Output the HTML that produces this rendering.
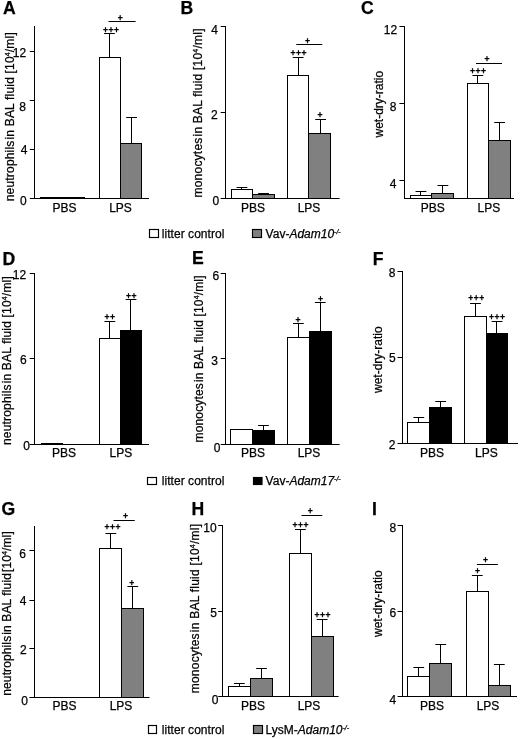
<!DOCTYPE html>
<html><head><meta charset="utf-8"><title>Figure</title>
<style>
html,body{margin:0;padding:0;background:#fff;}
svg{display:block;font-family:"Liberation Sans", Arial, sans-serif;}
text{stroke:#000;stroke-width:0.25px;}
</style></head><body>
<svg width="520" height="739" viewBox="0 0 520 739" fill="#000">
<rect x="0" y="0" width="520" height="739" fill="#fff"/>
<g id="panel-A">
<text x="3.00" y="14.40" font-size="17.6" text-anchor="start" font-weight="bold" >A</text>
<line x1="34.5" y1="26.00" x2="34.5" y2="199.00" stroke="#000" stroke-width="1"/>
<line x1="34.00" y1="198.5" x2="149.00" y2="198.5" stroke="#000" stroke-width="1"/>
<line x1="29.80" y1="51.5" x2="34.40" y2="51.5" stroke="#000" stroke-width="1"/>
<text x="26.15" y="57.00" font-size="12" text-anchor="end" font-weight="normal" >12</text>
<line x1="29.80" y1="100.5" x2="34.40" y2="100.5" stroke="#000" stroke-width="1"/>
<text x="26.00" y="110.60" font-size="12" text-anchor="end" font-weight="normal" >8</text>
<line x1="29.80" y1="149.5" x2="34.40" y2="149.5" stroke="#000" stroke-width="1"/>
<text x="27.40" y="153.75" font-size="12" text-anchor="end" font-weight="normal" >4</text>
<line x1="29.80" y1="198.5" x2="34.40" y2="198.5" stroke="#000" stroke-width="1"/>
<text x="26.65" y="204.75" font-size="12" text-anchor="end" font-weight="normal" >0</text>
<text transform="translate(14.40,201.25) rotate(-90)" font-size="12" text-anchor="start" textLength="169" lengthAdjust="spacing">neutrophils<tspan dx="1">in</tspan> BAL fluid [10<tspan font-size="7" dy="-4">4</tspan><tspan dy="4">/ml]</tspan></text>
<rect x="40.5" y="197.5" width="22.0" height="1.0" fill="#fff" stroke="#000" stroke-width="1"/>
<rect x="62.5" y="197.5" width="22.0" height="1.0" fill="#808080" stroke="#000" stroke-width="1"/>
<line x1="109.5" y1="33.60" x2="109.5" y2="57.50" stroke="#000" stroke-width="1"/>
<line x1="104.10" y1="33.5" x2="114.90" y2="33.5" stroke="#000" stroke-width="1"/>
<rect x="99.5" y="57.5" width="21.0" height="141.0" fill="#fff" stroke="#000" stroke-width="1"/>
<line x1="131.5" y1="117.50" x2="131.5" y2="143.30" stroke="#000" stroke-width="1"/>
<line x1="126.20" y1="117.5" x2="137.00" y2="117.5" stroke="#000" stroke-width="1"/>
<rect x="120.5" y="143.5" width="21.0" height="55.0" fill="#808080" stroke="#000" stroke-width="1"/>
<text x="64.60" y="211.75" font-size="12" text-anchor="middle" font-weight="normal" >PBS</text>
<text x="120.50" y="211.75" font-size="12" text-anchor="middle" font-weight="normal" >LPS</text>
<line x1="108.50" y1="21.5" x2="135.60" y2="21.5" stroke="#000" stroke-width="1"/>
<text x="120.25" y="20.70" font-size="8.5" text-anchor="middle" font-weight="bold" >+</text>
<text x="111.25" y="32.70" font-size="8.5" text-anchor="middle" font-weight="bold" letter-spacing="0.55">+++</text>
</g>
<g id="panel-B">
<text x="180.50" y="14.00" font-size="17.6" text-anchor="start" font-weight="bold" >B</text>
<line x1="225.5" y1="26.00" x2="225.5" y2="199.00" stroke="#000" stroke-width="1"/>
<line x1="225.00" y1="198.5" x2="339.60" y2="198.5" stroke="#000" stroke-width="1"/>
<line x1="220.70" y1="26.5" x2="225.30" y2="26.5" stroke="#000" stroke-width="1"/>
<text x="217.90" y="33.75" font-size="12" text-anchor="end" font-weight="normal" >4</text>
<line x1="220.70" y1="112.5" x2="225.30" y2="112.5" stroke="#000" stroke-width="1"/>
<text x="217.65" y="119.00" font-size="12" text-anchor="end" font-weight="normal" >2</text>
<line x1="220.70" y1="198.5" x2="225.30" y2="198.5" stroke="#000" stroke-width="1"/>
<text x="219.15" y="205.00" font-size="12" text-anchor="end" font-weight="normal" >0</text>
<text transform="translate(202.00,197.50) rotate(-90)" font-size="12" text-anchor="start" textLength="169" lengthAdjust="spacing">monocytes<tspan dx="1">in</tspan> BAL fluid [10<tspan font-size="7" dy="-4">4</tspan><tspan dy="4">/ml]</tspan></text>
<line x1="241.5" y1="187.00" x2="241.5" y2="189.60" stroke="#000" stroke-width="1"/>
<line x1="236.55" y1="187.5" x2="247.35" y2="187.5" stroke="#000" stroke-width="1"/>
<rect x="231.5" y="189.5" width="21.0" height="9.0" fill="#fff" stroke="#000" stroke-width="1"/>
<line x1="263.5" y1="193.50" x2="263.5" y2="194.50" stroke="#000" stroke-width="1"/>
<line x1="258.15" y1="193.5" x2="268.95" y2="193.5" stroke="#000" stroke-width="1"/>
<rect x="252.5" y="194.5" width="22.0" height="4.0" fill="#808080" stroke="#000" stroke-width="1"/>
<line x1="298.5" y1="57.00" x2="298.5" y2="75.30" stroke="#000" stroke-width="1"/>
<line x1="292.75" y1="57.5" x2="303.55" y2="57.5" stroke="#000" stroke-width="1"/>
<rect x="287.5" y="75.5" width="21.0" height="123.0" fill="#fff" stroke="#000" stroke-width="1"/>
<line x1="320.5" y1="119.00" x2="320.5" y2="133.20" stroke="#000" stroke-width="1"/>
<line x1="315.20" y1="119.5" x2="326.00" y2="119.5" stroke="#000" stroke-width="1"/>
<rect x="308.5" y="133.5" width="22.0" height="65.0" fill="#808080" stroke="#000" stroke-width="1"/>
<text x="253.00" y="211.75" font-size="12" text-anchor="middle" font-weight="normal" >PBS</text>
<text x="309.00" y="211.75" font-size="12" text-anchor="middle" font-weight="normal" >LPS</text>
<line x1="296.30" y1="44.5" x2="322.30" y2="44.5" stroke="#000" stroke-width="1"/>
<text x="307.40" y="43.90" font-size="8.5" text-anchor="middle" font-weight="bold" >+</text>
<text x="298.75" y="56.10" font-size="8.5" text-anchor="middle" font-weight="bold" letter-spacing="0.55">+++</text>
<text x="320.25" y="118.10" font-size="8.5" text-anchor="middle" font-weight="bold" letter-spacing="0.55">+</text>
</g>
<g id="panel-C">
<text x="361.00" y="14.30" font-size="17.6" text-anchor="start" font-weight="bold" >C</text>
<line x1="404.5" y1="26.00" x2="404.5" y2="199.00" stroke="#000" stroke-width="1"/>
<line x1="404.00" y1="198.5" x2="514.00" y2="198.5" stroke="#000" stroke-width="1"/>
<line x1="399.40" y1="26.5" x2="404.00" y2="26.5" stroke="#000" stroke-width="1"/>
<text x="397.15" y="33.75" font-size="12" text-anchor="end" font-weight="normal" >12</text>
<line x1="399.40" y1="103.5" x2="404.00" y2="103.5" stroke="#000" stroke-width="1"/>
<text x="396.40" y="111.25" font-size="12" text-anchor="end" font-weight="normal" >8</text>
<line x1="399.40" y1="180.5" x2="404.00" y2="180.5" stroke="#000" stroke-width="1"/>
<text x="396.40" y="187.50" font-size="12" text-anchor="end" font-weight="normal" >4</text>
<text transform="translate(383.10,137.50) rotate(-90)" font-size="12" text-anchor="start" >wet-dry-ratio</text>
<line x1="420.5" y1="191.60" x2="420.5" y2="195.70" stroke="#000" stroke-width="1"/>
<line x1="415.55" y1="191.5" x2="426.35" y2="191.5" stroke="#000" stroke-width="1"/>
<rect x="410.5" y="195.5" width="21.0" height="3.0" fill="#fff" stroke="#000" stroke-width="1"/>
<line x1="442.5" y1="185.80" x2="442.5" y2="193.50" stroke="#000" stroke-width="1"/>
<line x1="437.50" y1="185.5" x2="448.30" y2="185.5" stroke="#000" stroke-width="1"/>
<rect x="431.5" y="193.5" width="22.0" height="5.0" fill="#808080" stroke="#000" stroke-width="1"/>
<line x1="477.5" y1="75.00" x2="477.5" y2="83.00" stroke="#000" stroke-width="1"/>
<line x1="472.45" y1="75.5" x2="483.25" y2="75.5" stroke="#000" stroke-width="1"/>
<rect x="467.5" y="83.5" width="21.0" height="115.0" fill="#fff" stroke="#000" stroke-width="1"/>
<line x1="499.5" y1="122.50" x2="499.5" y2="140.80" stroke="#000" stroke-width="1"/>
<line x1="494.25" y1="122.5" x2="505.05" y2="122.5" stroke="#000" stroke-width="1"/>
<rect x="488.5" y="140.5" width="22.0" height="58.0" fill="#808080" stroke="#000" stroke-width="1"/>
<text x="432.80" y="212.00" font-size="12" text-anchor="middle" font-weight="normal" >PBS</text>
<text x="488.80" y="212.00" font-size="12" text-anchor="middle" font-weight="normal" >LPS</text>
<line x1="476.00" y1="63.5" x2="502.00" y2="63.5" stroke="#000" stroke-width="1"/>
<text x="487.00" y="61.90" font-size="8.5" text-anchor="middle" font-weight="bold" >+</text>
<text x="478.25" y="73.80" font-size="8.5" text-anchor="middle" font-weight="bold" letter-spacing="0.55">+++</text>
</g>
<g class="legend">
<rect x="149.5" y="229.5" width="9.0" height="8.0" fill="#fff" stroke="#000" stroke-width="1.15"/>
<rect x="252.5" y="229.5" width="9.0" height="8.0" fill="#808080" stroke="#000" stroke-width="1.15"/>
<text x="161.80" y="238.00" font-size="12" text-anchor="start" font-weight="normal" textLength="62.6" lengthAdjust="spacing">litter control</text>
<text x="265.60" y="238.00" font-size="12" text-anchor="start" font-weight="normal" >Vav-<tspan font-style="italic">Adam10</tspan><tspan font-size="7" dy="-4" font-style="italic">-/-</tspan></text>
</g>
<g id="panel-D">
<text x="2.60" y="265.00" font-size="17.6" text-anchor="start" font-weight="bold" >D</text>
<line x1="34.5" y1="273.00" x2="34.5" y2="445.00" stroke="#000" stroke-width="1"/>
<line x1="34.00" y1="444.5" x2="149.00" y2="444.5" stroke="#000" stroke-width="1"/>
<line x1="29.70" y1="273.5" x2="34.30" y2="273.5" stroke="#000" stroke-width="1"/>
<text x="26.15" y="278.75" font-size="12" text-anchor="end" font-weight="normal" >12</text>
<line x1="29.70" y1="358.5" x2="34.30" y2="358.5" stroke="#000" stroke-width="1"/>
<text x="26.65" y="363.75" font-size="12" text-anchor="end" font-weight="normal" >6</text>
<line x1="29.70" y1="444.5" x2="34.30" y2="444.5" stroke="#000" stroke-width="1"/>
<text x="29.90" y="450.30" font-size="12" text-anchor="end" font-weight="normal" >0</text>
<text transform="translate(10.60,445.00) rotate(-90)" font-size="12" text-anchor="start" textLength="168.75" lengthAdjust="spacing">neutrophils<tspan dx="1">in</tspan> BAL fluid [10<tspan font-size="7" dy="-4">4</tspan><tspan dy="4">/ml]</tspan></text>
<rect x="41.5" y="443.5" width="21.0" height="1.0" fill="#fff" stroke="#000" stroke-width="1"/>
<line x1="62.0" y1="444.5" x2="85.0" y2="444.5" stroke="#000" stroke-width="1"/>
<line x1="109.5" y1="321.80" x2="109.5" y2="338.20" stroke="#000" stroke-width="1"/>
<line x1="104.45" y1="321.5" x2="115.25" y2="321.5" stroke="#000" stroke-width="1"/>
<rect x="99.5" y="338.5" width="21.0" height="106.0" fill="#fff" stroke="#000" stroke-width="1"/>
<line x1="130.5" y1="299.40" x2="130.5" y2="330.80" stroke="#000" stroke-width="1"/>
<line x1="125.65" y1="299.5" x2="136.45" y2="299.5" stroke="#000" stroke-width="1"/>
<rect x="120.5" y="330.5" width="21.0" height="114.0" fill="#000" stroke="#000" stroke-width="1"/>
<text x="64.10" y="457.25" font-size="12" text-anchor="middle" font-weight="normal" >PBS</text>
<text x="120.80" y="457.25" font-size="12" text-anchor="middle" font-weight="normal" >LPS</text>
<text x="109.95" y="319.60" font-size="8.5" text-anchor="middle" font-weight="bold" letter-spacing="0.55">++</text>
<text x="131.55" y="298.80" font-size="8.5" text-anchor="middle" font-weight="bold" letter-spacing="0.55">++</text>
</g>
<g id="panel-E">
<text x="192.00" y="263.75" font-size="17.6" text-anchor="start" font-weight="bold" >E</text>
<line x1="225.5" y1="273.00" x2="225.5" y2="445.00" stroke="#000" stroke-width="1"/>
<line x1="225.00" y1="444.5" x2="339.60" y2="444.5" stroke="#000" stroke-width="1"/>
<line x1="220.70" y1="273.5" x2="225.30" y2="273.5" stroke="#000" stroke-width="1"/>
<text x="219.15" y="280.00" font-size="12" text-anchor="end" font-weight="normal" >6</text>
<line x1="220.70" y1="358.5" x2="225.30" y2="358.5" stroke="#000" stroke-width="1"/>
<text x="217.90" y="365.40" font-size="12" text-anchor="end" font-weight="normal" >3</text>
<line x1="220.70" y1="444.5" x2="225.30" y2="444.5" stroke="#000" stroke-width="1"/>
<text x="220.40" y="452.00" font-size="12" text-anchor="end" font-weight="normal" >0</text>
<text transform="translate(203.10,442.50) rotate(-90)" font-size="12" text-anchor="start" textLength="167" lengthAdjust="spacing">monocytes<tspan dx="1">in</tspan> BAL fluid [10<tspan font-size="7" dy="-4">4</tspan><tspan dy="4">/ml]</tspan></text>
<line x1="241.5" y1="429.00" x2="241.5" y2="429.80" stroke="#000" stroke-width="1"/>
<line x1="236.05" y1="429.5" x2="246.85" y2="429.5" stroke="#000" stroke-width="1"/>
<rect x="230.5" y="429.5" width="22.0" height="15.0" fill="#fff" stroke="#000" stroke-width="1"/>
<line x1="263.5" y1="425.40" x2="263.5" y2="430.80" stroke="#000" stroke-width="1"/>
<line x1="258.05" y1="425.5" x2="268.85" y2="425.5" stroke="#000" stroke-width="1"/>
<rect x="252.5" y="430.5" width="22.0" height="14.0" fill="#000" stroke="#000" stroke-width="1"/>
<line x1="298.5" y1="323.20" x2="298.5" y2="337.00" stroke="#000" stroke-width="1"/>
<line x1="293.00" y1="323.5" x2="303.80" y2="323.5" stroke="#000" stroke-width="1"/>
<rect x="287.5" y="337.5" width="22.0" height="107.0" fill="#fff" stroke="#000" stroke-width="1"/>
<line x1="320.5" y1="302.80" x2="320.5" y2="331.50" stroke="#000" stroke-width="1"/>
<line x1="314.85" y1="302.5" x2="325.65" y2="302.5" stroke="#000" stroke-width="1"/>
<rect x="309.5" y="331.5" width="22.0" height="113.0" fill="#000" stroke="#000" stroke-width="1"/>
<text x="253.00" y="457.25" font-size="12" text-anchor="middle" font-weight="normal" >PBS</text>
<text x="309.00" y="457.25" font-size="12" text-anchor="middle" font-weight="normal" >LPS</text>
<text x="298.25" y="322.60" font-size="8.5" text-anchor="middle" font-weight="bold" letter-spacing="0.55">+</text>
<text x="320.75" y="302.40" font-size="8.5" text-anchor="middle" font-weight="bold" letter-spacing="0.55">+</text>
</g>
<g id="panel-F">
<text x="372.70" y="264.50" font-size="17.6" text-anchor="start" font-weight="bold" >F</text>
<line x1="402.5" y1="271.00" x2="402.5" y2="444.00" stroke="#000" stroke-width="1"/>
<line x1="402.00" y1="443.5" x2="518.00" y2="443.5" stroke="#000" stroke-width="1"/>
<line x1="397.50" y1="271.5" x2="402.10" y2="271.5" stroke="#000" stroke-width="1"/>
<text x="395.40" y="277.00" font-size="12" text-anchor="end" font-weight="normal" >8</text>
<line x1="397.50" y1="357.5" x2="402.10" y2="357.5" stroke="#000" stroke-width="1"/>
<text x="395.80" y="362.25" font-size="12" text-anchor="end" font-weight="normal" >5</text>
<line x1="397.50" y1="443.5" x2="402.10" y2="443.5" stroke="#000" stroke-width="1"/>
<text x="395.40" y="448.75" font-size="12" text-anchor="end" font-weight="normal" >2</text>
<text transform="translate(382.25,393.00) rotate(-90)" font-size="12" text-anchor="start" >wet-dry-ratio</text>
<line x1="418.5" y1="417.00" x2="418.5" y2="422.50" stroke="#000" stroke-width="1"/>
<line x1="413.40" y1="417.5" x2="424.20" y2="417.5" stroke="#000" stroke-width="1"/>
<rect x="407.5" y="422.5" width="22.0" height="21.0" fill="#fff" stroke="#000" stroke-width="1"/>
<line x1="440.5" y1="401.00" x2="440.5" y2="407.60" stroke="#000" stroke-width="1"/>
<line x1="435.25" y1="401.5" x2="446.05" y2="401.5" stroke="#000" stroke-width="1"/>
<rect x="429.5" y="407.5" width="22.0" height="36.0" fill="#000" stroke="#000" stroke-width="1"/>
<line x1="475.5" y1="303.00" x2="475.5" y2="316.70" stroke="#000" stroke-width="1"/>
<line x1="470.05" y1="303.5" x2="480.85" y2="303.5" stroke="#000" stroke-width="1"/>
<rect x="464.5" y="316.5" width="22.0" height="127.0" fill="#fff" stroke="#000" stroke-width="1"/>
<line x1="496.5" y1="321.80" x2="496.5" y2="333.30" stroke="#000" stroke-width="1"/>
<line x1="491.65" y1="321.5" x2="502.45" y2="321.5" stroke="#000" stroke-width="1"/>
<rect x="486.5" y="333.5" width="21.0" height="110.0" fill="#000" stroke="#000" stroke-width="1"/>
<text x="431.90" y="456.75" font-size="12" text-anchor="middle" font-weight="normal" >PBS</text>
<text x="486.40" y="456.75" font-size="12" text-anchor="middle" font-weight="normal" >LPS</text>
<text x="476.50" y="301.35" font-size="8.5" text-anchor="middle" font-weight="bold" letter-spacing="0.55">+++</text>
<text x="497.25" y="320.10" font-size="8.5" text-anchor="middle" font-weight="bold" letter-spacing="0.55">+++</text>
</g>
<g class="legend">
<rect x="147.5" y="477.5" width="9.0" height="7.0" fill="#fff" stroke="#000" stroke-width="1.15"/>
<rect x="253.5" y="477.5" width="8.5" height="7.0" fill="#000" stroke="#000" stroke-width="1.15"/>
<text x="161.80" y="484.75" font-size="12" text-anchor="start" font-weight="normal" textLength="62.6" lengthAdjust="spacing">litter control</text>
<text x="265.60" y="484.75" font-size="12" text-anchor="start" font-weight="normal" >Vav-<tspan font-style="italic">Adam17</tspan><tspan font-size="7" dy="-4" font-style="italic">-/-</tspan></text>
</g>
<g id="panel-G">
<text x="1.50" y="514.80" font-size="17.6" text-anchor="start" font-weight="bold" >G</text>
<line x1="34.5" y1="526.00" x2="34.5" y2="698.00" stroke="#000" stroke-width="1"/>
<line x1="34.00" y1="697.5" x2="149.50" y2="697.5" stroke="#000" stroke-width="1"/>
<line x1="29.40" y1="550.5" x2="34.00" y2="550.5" stroke="#000" stroke-width="1"/>
<text x="25.90" y="557.50" font-size="12" text-anchor="end" font-weight="normal" >6</text>
<line x1="29.40" y1="600.5" x2="34.00" y2="600.5" stroke="#000" stroke-width="1"/>
<text x="26.40" y="605.00" font-size="12" text-anchor="end" font-weight="normal" >4</text>
<line x1="29.40" y1="648.5" x2="34.00" y2="648.5" stroke="#000" stroke-width="1"/>
<text x="26.65" y="654.25" font-size="12" text-anchor="end" font-weight="normal" >2</text>
<line x1="29.40" y1="697.5" x2="34.00" y2="697.5" stroke="#000" stroke-width="1"/>
<text x="27.90" y="704.50" font-size="12" text-anchor="end" font-weight="normal" >0</text>
<text transform="translate(10.70,695.75) rotate(-90)" font-size="12" text-anchor="start" textLength="164.5" lengthAdjust="spacing">neutrophils<tspan dx="1">in</tspan> BAL fluid<tspan dx="1">[10</tspan><tspan font-size="7" dy="-4">4</tspan><tspan dy="4">/ml]</tspan></text>
<line x1="38.0" y1="697.5" x2="63.0" y2="697.5" stroke="#000" stroke-width="1"/>
<line x1="62.0" y1="697.5" x2="86.0" y2="697.5" stroke="#000" stroke-width="1"/>
<line x1="110.5" y1="533.00" x2="110.5" y2="548.20" stroke="#000" stroke-width="1"/>
<line x1="105.45" y1="533.5" x2="116.25" y2="533.5" stroke="#000" stroke-width="1"/>
<rect x="99.5" y="548.5" width="22.0" height="149.0" fill="#fff" stroke="#000" stroke-width="1"/>
<line x1="132.5" y1="586.90" x2="132.5" y2="608.80" stroke="#000" stroke-width="1"/>
<line x1="127.40" y1="586.5" x2="138.20" y2="586.5" stroke="#000" stroke-width="1"/>
<rect x="121.5" y="608.5" width="22.0" height="89.0" fill="#808080" stroke="#000" stroke-width="1"/>
<text x="64.60" y="710.00" font-size="12" text-anchor="middle" font-weight="normal" >PBS</text>
<text x="121.00" y="710.00" font-size="12" text-anchor="middle" font-weight="normal" >LPS</text>
<line x1="113.50" y1="520.5" x2="134.75" y2="520.5" stroke="#000" stroke-width="1"/>
<text x="125.40" y="519.10" font-size="8.5" text-anchor="middle" font-weight="bold" >+</text>
<text x="112.85" y="530.40" font-size="8.5" text-anchor="middle" font-weight="bold" letter-spacing="0.55">+++</text>
<text x="132.05" y="585.60" font-size="8.5" text-anchor="middle" font-weight="bold" letter-spacing="0.55">+</text>
</g>
<g id="panel-H">
<text x="191.60" y="514.50" font-size="17.6" text-anchor="start" font-weight="bold" >H</text>
<line x1="222.5" y1="525.00" x2="222.5" y2="697.00" stroke="#000" stroke-width="1"/>
<line x1="222.00" y1="696.5" x2="338.60" y2="696.5" stroke="#000" stroke-width="1"/>
<line x1="218.20" y1="525.5" x2="222.80" y2="525.5" stroke="#000" stroke-width="1"/>
<text x="216.65" y="532.00" font-size="12" text-anchor="end" font-weight="normal" >10</text>
<line x1="218.20" y1="611.5" x2="222.80" y2="611.5" stroke="#000" stroke-width="1"/>
<text x="216.90" y="617.00" font-size="12" text-anchor="end" font-weight="normal" >5</text>
<line x1="218.20" y1="696.5" x2="222.80" y2="696.5" stroke="#000" stroke-width="1"/>
<text x="218.40" y="703.75" font-size="12" text-anchor="end" font-weight="normal" >0</text>
<text transform="translate(198.60,693.25) rotate(-90)" font-size="12" text-anchor="start" textLength="169.25" lengthAdjust="spacing">monocytes<tspan dx="1">in</tspan> BAL fluid [10<tspan font-size="7" dy="-4">4</tspan><tspan dy="4">/ml]</tspan></text>
<line x1="239.5" y1="683.25" x2="239.5" y2="686.20" stroke="#000" stroke-width="1"/>
<line x1="233.95" y1="683.5" x2="244.75" y2="683.5" stroke="#000" stroke-width="1"/>
<rect x="228.5" y="686.5" width="22.0" height="10.0" fill="#fff" stroke="#000" stroke-width="1"/>
<line x1="261.5" y1="668.80" x2="261.5" y2="678.20" stroke="#000" stroke-width="1"/>
<line x1="256.10" y1="668.5" x2="266.90" y2="668.5" stroke="#000" stroke-width="1"/>
<rect x="250.5" y="678.5" width="22.0" height="18.0" fill="#808080" stroke="#000" stroke-width="1"/>
<line x1="300.5" y1="529.20" x2="300.5" y2="553.30" stroke="#000" stroke-width="1"/>
<line x1="295.00" y1="529.5" x2="305.80" y2="529.5" stroke="#000" stroke-width="1"/>
<rect x="289.5" y="553.5" width="22.0" height="143.0" fill="#fff" stroke="#000" stroke-width="1"/>
<line x1="322.5" y1="619.75" x2="322.5" y2="636.70" stroke="#000" stroke-width="1"/>
<line x1="316.70" y1="619.5" x2="327.50" y2="619.5" stroke="#000" stroke-width="1"/>
<rect x="311.5" y="636.5" width="22.0" height="60.0" fill="#808080" stroke="#000" stroke-width="1"/>
<text x="252.90" y="709.75" font-size="12" text-anchor="middle" font-weight="normal" >PBS</text>
<text x="309.00" y="709.75" font-size="12" text-anchor="middle" font-weight="normal" >LPS</text>
<line x1="301.50" y1="515.5" x2="322.30" y2="515.5" stroke="#000" stroke-width="1"/>
<text x="310.20" y="513.90" font-size="8.5" text-anchor="middle" font-weight="bold" >+</text>
<text x="300.75" y="528.10" font-size="8.5" text-anchor="middle" font-weight="bold" letter-spacing="0.55">+++</text>
<text x="322.75" y="618.40" font-size="8.5" text-anchor="middle" font-weight="bold" letter-spacing="0.55">+++</text>
</g>
<g id="panel-I">
<text x="371.90" y="514.50" font-size="17.6" text-anchor="start" font-weight="bold" >I</text>
<line x1="402.5" y1="525.00" x2="402.5" y2="697.00" stroke="#000" stroke-width="1"/>
<line x1="402.00" y1="696.5" x2="517.00" y2="696.5" stroke="#000" stroke-width="1"/>
<line x1="397.60" y1="525.5" x2="402.20" y2="525.5" stroke="#000" stroke-width="1"/>
<text x="396.15" y="532.00" font-size="12" text-anchor="end" font-weight="normal" >8</text>
<line x1="397.60" y1="611.5" x2="402.20" y2="611.5" stroke="#000" stroke-width="1"/>
<text x="396.15" y="617.00" font-size="12" text-anchor="end" font-weight="normal" >6</text>
<line x1="397.60" y1="696.5" x2="402.20" y2="696.5" stroke="#000" stroke-width="1"/>
<text x="396.15" y="703.75" font-size="12" text-anchor="end" font-weight="normal" >4</text>
<text transform="translate(382.40,637.00) rotate(-90)" font-size="12" text-anchor="start" >wet-dry-ratio</text>
<line x1="418.5" y1="667.50" x2="418.5" y2="676.80" stroke="#000" stroke-width="1"/>
<line x1="413.35" y1="667.5" x2="424.15" y2="667.5" stroke="#000" stroke-width="1"/>
<rect x="407.5" y="676.5" width="22.0" height="20.0" fill="#fff" stroke="#000" stroke-width="1"/>
<line x1="440.5" y1="644.50" x2="440.5" y2="663.00" stroke="#000" stroke-width="1"/>
<line x1="435.35" y1="644.5" x2="446.15" y2="644.5" stroke="#000" stroke-width="1"/>
<rect x="429.5" y="663.5" width="22.0" height="33.0" fill="#808080" stroke="#000" stroke-width="1"/>
<line x1="477.5" y1="575.00" x2="477.5" y2="591.00" stroke="#000" stroke-width="1"/>
<line x1="471.90" y1="575.5" x2="482.70" y2="575.5" stroke="#000" stroke-width="1"/>
<rect x="466.5" y="591.5" width="22.0" height="105.0" fill="#fff" stroke="#000" stroke-width="1"/>
<line x1="499.5" y1="664.70" x2="499.5" y2="685.50" stroke="#000" stroke-width="1"/>
<line x1="493.90" y1="664.5" x2="504.70" y2="664.5" stroke="#000" stroke-width="1"/>
<rect x="488.5" y="685.5" width="22.0" height="11.0" fill="#808080" stroke="#000" stroke-width="1"/>
<text x="431.90" y="709.75" font-size="12" text-anchor="middle" font-weight="normal" >PBS</text>
<text x="488.00" y="709.75" font-size="12" text-anchor="middle" font-weight="normal" >LPS</text>
<line x1="476.90" y1="564.5" x2="497.90" y2="564.5" stroke="#000" stroke-width="1"/>
<text x="485.40" y="562.70" font-size="8.5" text-anchor="middle" font-weight="bold" >+</text>
<text x="477.75" y="573.70" font-size="8.5" text-anchor="middle" font-weight="bold" letter-spacing="0.55">+</text>
</g>
<g class="legend">
<rect x="148.5" y="725.5" width="8.0" height="8.0" fill="#fff" stroke="#000" stroke-width="1.15"/>
<rect x="253.5" y="725.5" width="9.0" height="8.0" fill="#808080" stroke="#000" stroke-width="1.15"/>
<text x="161.80" y="733.50" font-size="12" text-anchor="start" font-weight="normal" textLength="62.6" lengthAdjust="spacing">litter control</text>
<text x="265.60" y="733.50" font-size="12" text-anchor="start" font-weight="normal" >LysM-<tspan font-style="italic">Adam10</tspan><tspan font-size="7" dy="-4" font-style="italic">-/-</tspan></text>
</g>
</svg>
</body></html>
